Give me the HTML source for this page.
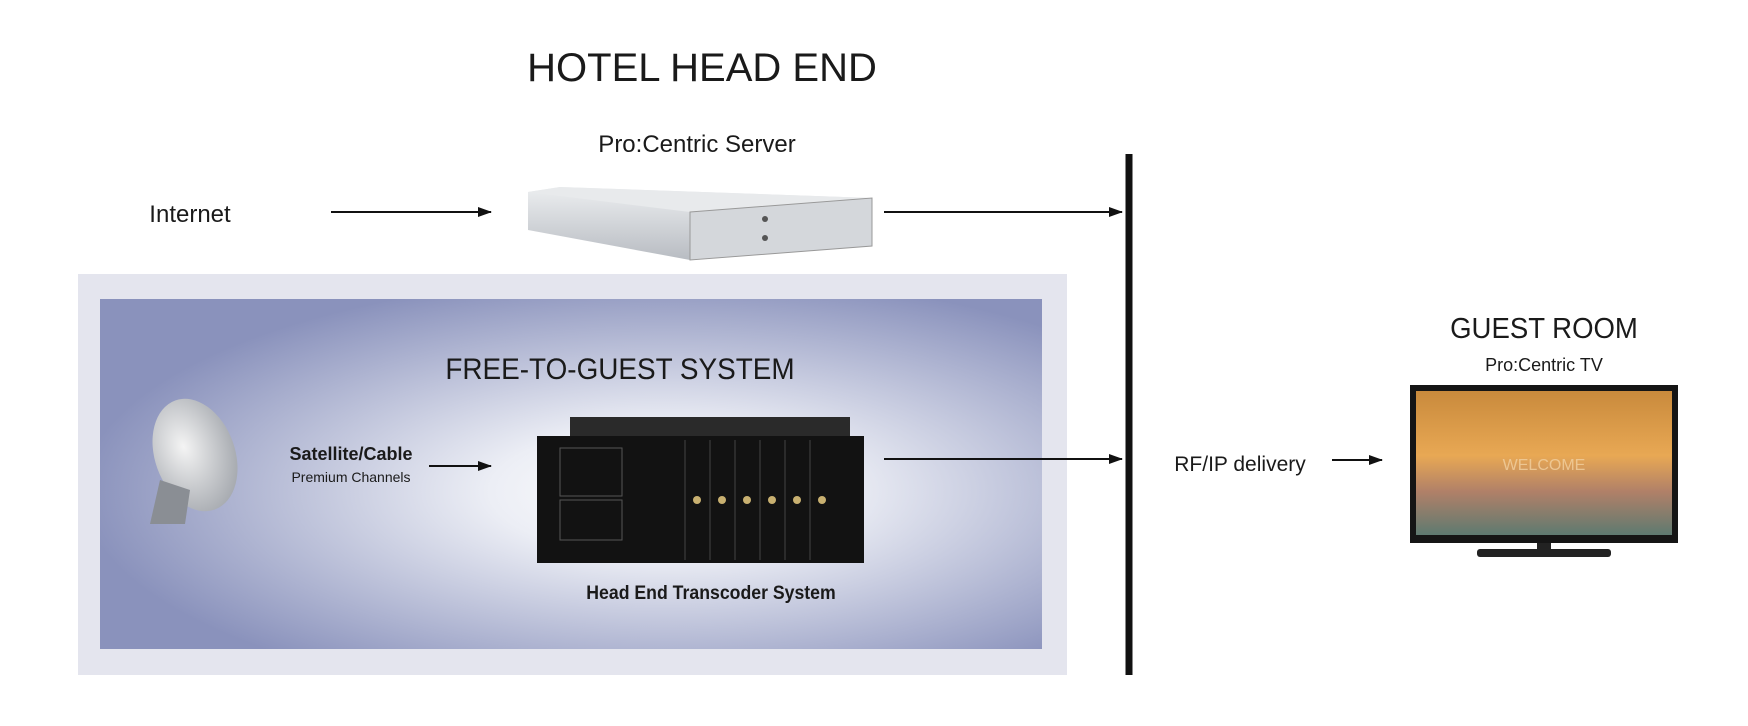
<!DOCTYPE html>
<html><head><meta charset="utf-8"><style>
html,body{margin:0;padding:0;background:#fff;}
#c{position:relative;width:1748px;height:726px;overflow:hidden;font-family:"Liberation Sans",sans-serif;color:#1a1a1a;}
.t{position:absolute;white-space:nowrap;transform:translateX(-50%);}
</style></head><body><div id="c">
<svg width="1748" height="726" style="position:absolute;left:0;top:0">
<defs>
<radialGradient id="g" cx="0.6" cy="0.55" r="0.62">
<stop offset="0" stop-color="#ffffff"/><stop offset="0.3" stop-color="#eceef5"/><stop offset="1" stop-color="#8a92bc"/></radialGradient>
<linearGradient id="srv" x1="0" y1="0" x2="0" y2="1"><stop offset="0" stop-color="#eceef0"/><stop offset="1" stop-color="#b8bcc2"/></linearGradient>
<linearGradient id="tv" x1="0" y1="0" x2="0" y2="1"><stop offset="0" stop-color="#c98a3c"/><stop offset="0.45" stop-color="#e8a854"/><stop offset="0.7" stop-color="#b08068"/><stop offset="1" stop-color="#5e7a70"/></linearGradient>
<radialGradient id="dish" cx="0.4" cy="0.4" r="0.7"><stop offset="0" stop-color="#f4f4f4"/><stop offset="1" stop-color="#a0a4aa"/></radialGradient>
<marker id="a" markerWidth="14" markerHeight="10" refX="13" refY="5" orient="auto" markerUnits="userSpaceOnUse"><path d="M0,0 L14,5 L0,10 z" fill="#111"/></marker>
</defs>
<rect x="78" y="274" width="989" height="401" fill="#e4e5ee"/>
<rect x="100" y="299" width="942" height="350" fill="url(#g)"/>
<polygon points="528,192 560,187 872,198 872,246 690,260 528,230" fill="url(#srv)"/>
<polygon points="528,192 560,187 872,198 690,212" fill="#e8eaec"/>
<polygon points="690,212 872,198 872,246 690,260" fill="#d4d7db" stroke="#999" stroke-width="1"/>
<circle cx="765" cy="219" r="3" fill="#555"/><circle cx="765" cy="238" r="3" fill="#555"/>
<rect x="570" y="417" width="280" height="22" fill="#2a2a2a"/>
<rect x="537" y="436" width="327" height="127" fill="#121212"/>
<g fill="#c8b070"><circle cx="697" cy="500" r="4"/><circle cx="722" cy="500" r="4"/><circle cx="747" cy="500" r="4"/><circle cx="772" cy="500" r="4"/><circle cx="797" cy="500" r="4"/><circle cx="822" cy="500" r="4"/></g>
<g stroke="#444" stroke-width="1"><line x1="685" y1="440" x2="685" y2="560"/><line x1="710" y1="440" x2="710" y2="560"/><line x1="735" y1="440" x2="735" y2="560"/><line x1="760" y1="440" x2="760" y2="560"/><line x1="785" y1="440" x2="785" y2="560"/><line x1="810" y1="440" x2="810" y2="560"/></g>
<rect x="560" y="448" width="62" height="48" fill="none" stroke="#555"/><rect x="560" y="500" width="62" height="40" fill="none" stroke="#555"/>
<ellipse cx="195" cy="455" rx="40" ry="58" fill="url(#dish)" transform="rotate(-20 195 455)"/>
<polygon points="160,480 190,490 185,524 150,524" fill="#8a8e94"/>
<rect x="1410" y="385" width="268" height="158" fill="#151515"/>
<rect x="1416" y="391" width="256" height="144" fill="url(#tv)"/>
<rect x="1537" y="543" width="14" height="8" fill="#222"/>
<rect x="1477" y="549" width="134" height="8" rx="3" fill="#222"/>
<text x="1544" y="470" fill="#f2d0a0" font-family="Liberation Sans" font-size="16" text-anchor="middle" opacity="0.8">WELCOME</text>
<line x1="1129" y1="154" x2="1129" y2="675" stroke="#111" stroke-width="7"/>
<g stroke="#111" stroke-width="2" marker-end="url(#a)">
<line x1="331" y1="212" x2="491" y2="212"/>
<line x1="884" y1="212" x2="1122" y2="212"/>
<line x1="429" y1="466" x2="491" y2="466"/>
<line x1="884" y1="459" x2="1122" y2="459"/>
<line x1="1332" y1="460" x2="1382" y2="460"/>
</g>
</svg>
<div class="t" style="left:702px;top:46px;font-size:40px;">HOTEL HEAD END</div>
<div class="t" style="left:697px;top:131px;font-size:24px;">Pro:Centric Server</div>
<div class="t" style="left:190px;top:201px;font-size:24px;">Internet</div>
<div class="t" style="left:620px;top:353px;font-size:30px;transform:translateX(-50%) scaleX(0.93);">FREE-TO-GUEST SYSTEM</div>
<div class="t" style="left:351px;top:444px;font-size:18px;font-weight:bold;">Satellite/Cable</div>
<div class="t" style="left:351px;top:469px;font-size:14px;">Premium Channels</div>
<div class="t" style="left:711px;top:583px;font-size:19px;font-weight:bold;transform:translateX(-50%) scaleX(0.93);">Head End Transcoder System</div>
<div class="t" style="left:1240px;top:453px;font-size:21px;">RF/IP delivery</div>
<div class="t" style="left:1544px;top:313px;font-size:29px;transform:translateX(-50%) scaleX(0.95);">GUEST ROOM</div>
<div class="t" style="left:1544px;top:355px;font-size:18px;">Pro:Centric TV</div>
</div></body></html>
